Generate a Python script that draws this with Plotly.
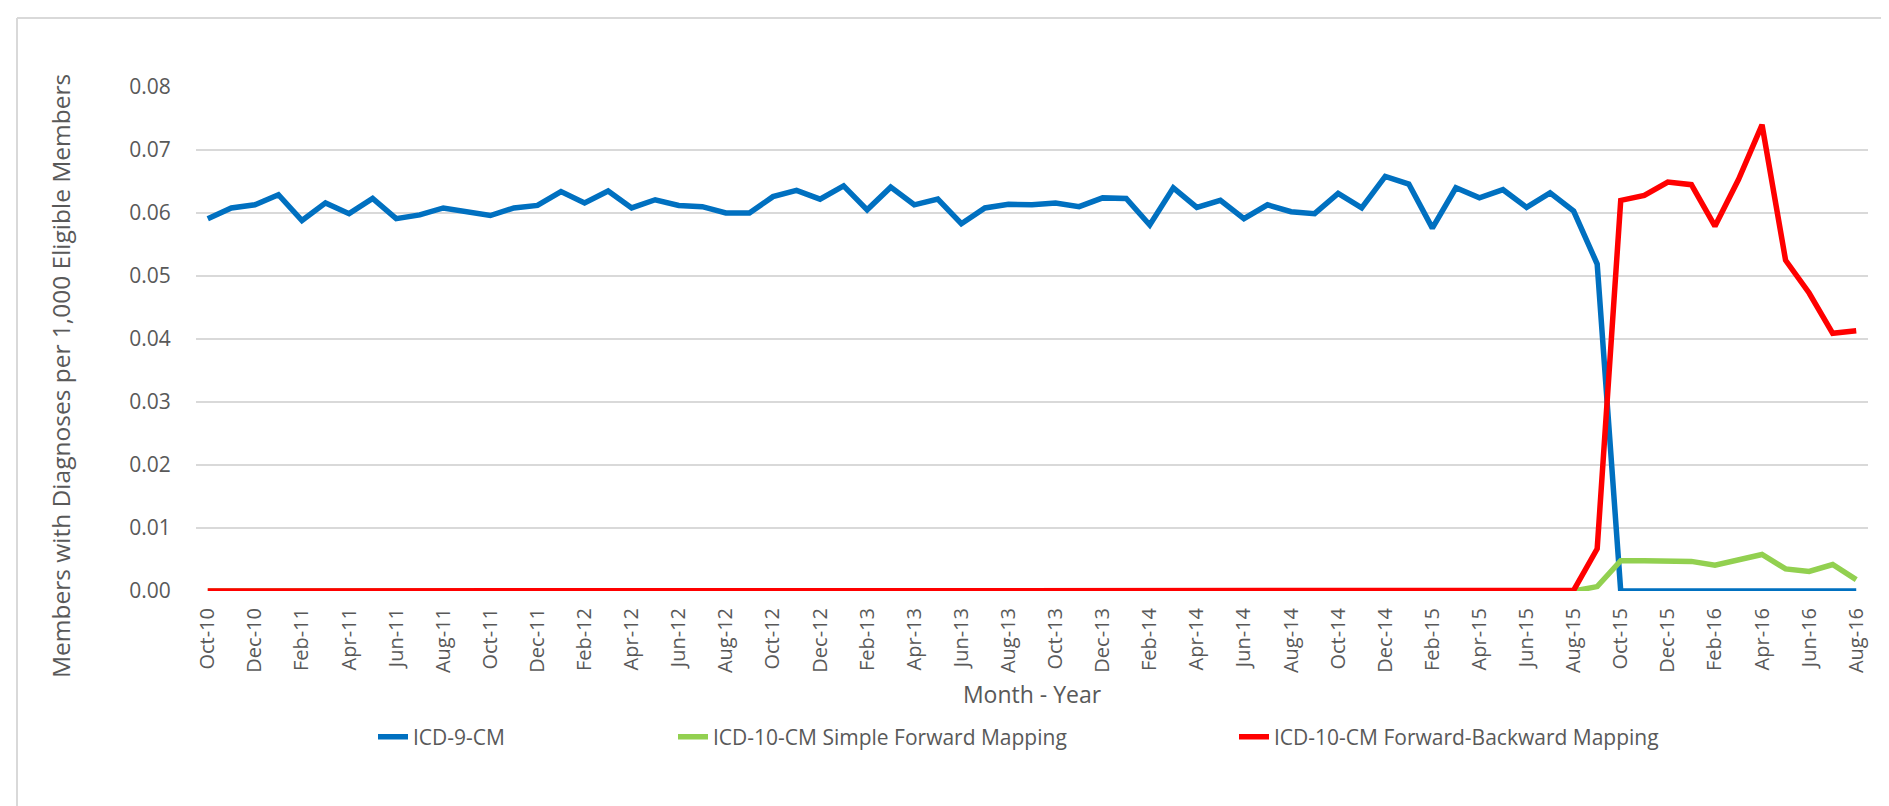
import plotly.graph_objects as go

# ---- data -------------------------------------------------------------
month_abbr = ["Jan", "Feb", "Mar", "Apr", "May", "Jun",
              "Jul", "Aug", "Sep", "Oct", "Nov", "Dec"]
months = []
for y in range(2010, 2017):
    for m in range(12):
        if (y == 2010 and m < 9) or (y == 2016 and m > 7):
            continue
        months.append(f"{month_abbr[m]}-{str(y)[2:]}")

icd9 = [0.0591, 0.0608, 0.0613, 0.0629, 0.0588, 0.0616, 0.0599, 0.0623, 0.0591, 0.0597,
        0.0608, 0.0603, 0.0596, 0.0608, 0.0612, 0.0634, 0.0616, 0.0635, 0.0608, 0.0621,
        0.0612, 0.0610, 0.0600, 0.0600, 0.0626, 0.0636, 0.0622, 0.0643, 0.0605, 0.0641,
        0.0613, 0.0622, 0.0583, 0.0608, 0.0614, 0.0613, 0.0616, 0.0610, 0.0624, 0.0623,
        0.0581, 0.0640, 0.0609, 0.0620, 0.0591, 0.0613, 0.0602, 0.0599, 0.0631, 0.0608,
        0.0658, 0.0646, 0.0576, 0.0640, 0.0624, 0.0637, 0.0609, 0.0632, 0.0603, 0.0519,
        0.0, 0.0, 0.0, 0.0, 0.0, 0.0, 0.0, 0.0, 0.0, 0.0, 0.0]

icd10_simple = [0.0] * 58 + [0.0, 0.0007, 0.0048, 0.0048, 0.0048, 0.0047, 0.0041,
                             0.0049, 0.0058, 0.0035, 0.0031, 0.0042, 0.0018]

icd10_fb = [0.0] * 58 + [0.0001, 0.0067, 0.0620, 0.0628, 0.0649, 0.0645, 0.0579,
                         0.0653, 0.0740, 0.0525, 0.0473, 0.0409, 0.0413]

series_names = ["ICD-9-CM", "ICD-10-CM Simple Forward Mapping",
                "ICD-10-CM Forward-Backward Mapping"]
series_colors = ["#0070C0", "#92D050", "#FF0000"]
y_ticks = [0.0, 0.01, 0.02, 0.03, 0.04, 0.05, 0.06, 0.07, 0.08]
x_title = "Month - Year"
y_title = "Members with Diagnoses per 1,000 Eligible Members"

# ---- figure -----------------------------------------------------------
W, H = 1889, 806
L, R, T, B = 188, 29, 79, 223
pw, ph = W - L - R, H - T - B

def px_x(p):
    return (p - L) / pw

def px_y(p):
    return (H - B - p) / ph

TXT = "#595959"
FONT = "Open Sans"

fig = go.Figure()
legend_keys = ["legend", "legend2", "legend3"]
for vals, name, col, lg in zip([icd9, icd10_simple, icd10_fb], series_names,
                               series_colors, legend_keys):
    fig.add_trace(go.Scatter(
        x=months, y=vals, name=name, mode="lines",
        line=dict(color=col, width=5.5), legend=lg))

leg_common = dict(orientation="h", xanchor="left", yanchor="middle",
                  font=dict(family=FONT, size=21, color=TXT),
                  bgcolor="rgba(0,0,0,0)", borderwidth=0)
legend_text_px = [413, 713, 1274]
LEG_Y = 729

fig.update_layout(
    width=W, height=H,
    margin=dict(l=L, r=R, t=T, b=B, autoexpand=False),
    paper_bgcolor="white", plot_bgcolor="white",
    font=dict(family=FONT, color=TXT),
    showlegend=True,
    legend=dict(x=px_x(legend_text_px[0] - 48), y=px_y(LEG_Y), **leg_common),
    legend2=dict(x=px_x(legend_text_px[1] - 48), y=px_y(LEG_Y), **leg_common),
    legend3=dict(x=px_x(legend_text_px[2] - 48), y=px_y(LEG_Y), **leg_common),
    xaxis=dict(
        type="category", range=[-0.5, len(months) - 0.5],
        tickmode="array", tickvals=months[::2], ticktext=months[::2],
        tickangle=-90, tickfont=dict(family=FONT, size=20, color=TXT),
        showgrid=False, zeroline=False, showline=False, ticks="",
        ticklabelstandoff=12, automargin=False,
        title=dict(text=x_title, font=dict(family=FONT, size=23, color=TXT),
                   standoff=14),
    ),
    yaxis=dict(
        range=[0, 0.08], tickmode="array", tickvals=y_ticks,
        tickformat=".2f", tickfont=dict(family=FONT, size=21, color=TXT),
        showgrid=True, gridcolor="#D9D9D9", gridwidth=1.5,
        zeroline=False, showline=False,
        ticks="outside", ticklen=20, tickcolor="rgba(0,0,0,0)",
        automargin=False,
    ),
    annotations=[dict(
        text=y_title, textangle=-90, showarrow=False,
        xref="paper", yref="paper", x=px_x(52), y=px_y(368),
        xanchor="center", yanchor="middle",
        font=dict(family=FONT, size=24.5, color=TXT))],
    shapes=[
        dict(type="line", xref="paper", yref="paper",
             x0=px_x(9), x1=px_x(W + 5), y0=px_y(10), y1=px_y(10),
             line=dict(color="#D9D9D9", width=2)),
        dict(type="line", xref="paper", yref="paper",
             x0=px_x(9), x1=px_x(9), y0=px_y(10), y1=px_y(H + 5),
             line=dict(color="#D9D9D9", width=2)),
    ],
)

fig.write_html("out.html")
